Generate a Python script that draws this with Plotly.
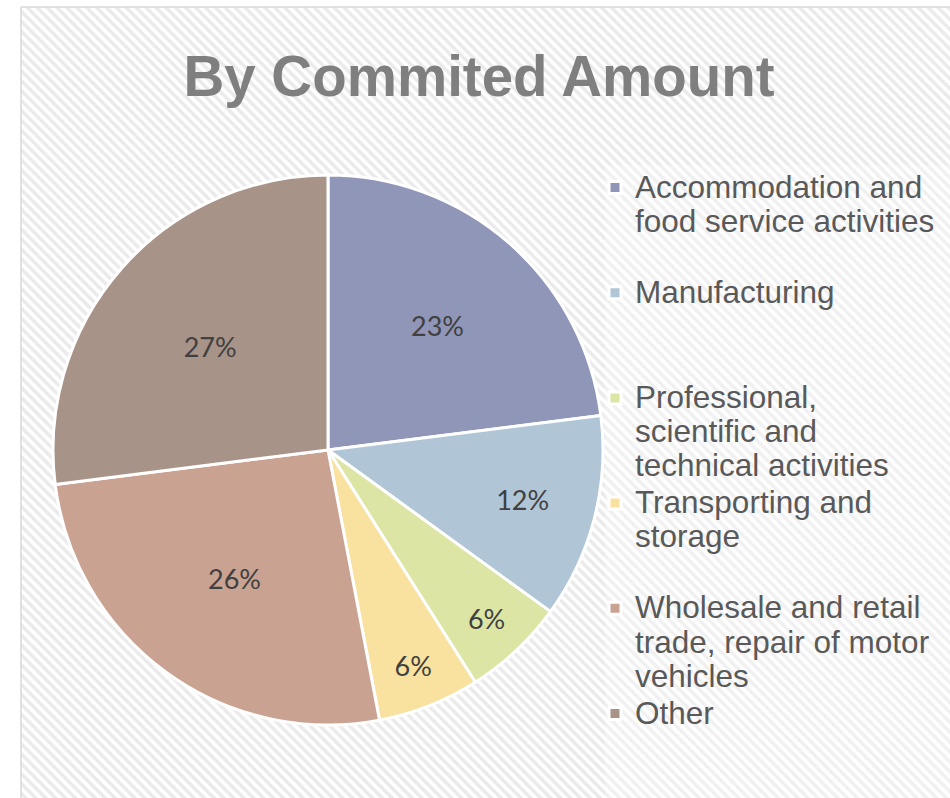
import plotly.graph_objects as go

# Sector names (line breaks as shown in the legend) and their share of committed amount
categories = [
    "Accommodation and<br>food service activities",
    "Manufacturing",
    "Professional,<br>scientific and<br>technical activities",
    "Transporting and<br>storage",
    "Wholesale and retail<br>trade, repair of motor<br>vehicles",
    "Other",
]
shares = [23, 12, 6, 6, 26, 27]
slice_colors = ["#8f96b7", "#b0c5d6", "#dde5a4", "#f9e19f", "#c9a292", "#a89389"]
title_text = "By Commited Amount"

W, H = 950, 798
LINES_PER_ENTRY = 3
LEGEND_GLYPH_PX = 31.5


def legend_label(name, pad=True):
    """Pad legend entries to the same number of lines so entries are evenly spaced."""
    lines = name.split("<br>")
    if pad:
        lines += ["\u00a0"] * (LINES_PER_ENTRY - len(lines))
    return "<br>".join(
        f'<span style="font-size:{LEGEND_GLYPH_PX}px">{ln}</span>' for ln in lines
    )


legend_labels = [legend_label(c, pad=(i < len(categories) - 1))
                 for i, c in enumerate(categories)]

fig = go.Figure()

# Hatched chart-area background with a thin grey frame
fig.add_trace(
    go.Scatter(
        x=[21, W + 5, W + 5, 21, 21],
        y=[7, 7, H + 5, H + 5, 7],
        mode="lines",
        fill="toself",
        fillpattern=dict(
            shape="\\", fgcolor="#d6d6d6", bgcolor="#ffffff", size=7, solidity=0.5
        ),
        line=dict(color="#d9d9d9", width=1.5),
        hoverinfo="skip",
        showlegend=False,
    )
)

fig.add_trace(
    go.Pie(
        labels=legend_labels,
        values=shares,
        sort=False,
        direction="clockwise",
        rotation=0,
        marker=dict(colors=slice_colors, line=dict(color="#ffffff", width=3)),
        texttemplate="%{percent:.0%}",
        textposition="inside",
        insidetextorientation="horizontal",
        textfont=dict(family="Lato, Open Sans, sans-serif", size=27, color="#404040"),
        hoverinfo="percent",
        domain=dict(x=[53 / W, 603 / W], y=[1 - 725 / H, 1 - 175 / H]),
    )
)

# Lighter panel behind the legend entries (kept clear of the pie)
fig.add_shape(
    type="rect", xref="paper", yref="paper",
    x0=605 / W, x1=1.0, y0=0.0, y1=1 - 165 / H,
    fillcolor="rgba(255,255,255,0.3)", line=dict(width=0), layer="above",
)

fig.update_layout(
    width=W,
    height=H,
    autosize=False,
    margin=dict(l=0, r=0, t=0, b=0, autoexpand=False),
    paper_bgcolor="#ffffff",
    plot_bgcolor="#ffffff",
    xaxis=dict(range=[0, W], visible=False, fixedrange=True),
    yaxis=dict(range=[H, 0], visible=False, fixedrange=True),
    title=dict(
        text=title_text,
        x=479 / W,
        xanchor="center",
        y=1 - 76 / H,
        yanchor="middle",
        font=dict(family="Liberation Sans, Arial, sans-serif", size=56.5,
                  color="#7f7f7f", weight="bold"),
    ),
    legend=dict(
        x=595 / W,
        xanchor="left",
        y=1 - 164 / H,
        yanchor="top",
        valign="top",
        font=dict(family="Liberation Sans, Arial, sans-serif", size=26.2, color="#595959"),
        bgcolor="rgba(0,0,0,0)",
        borderwidth=0,
    ),
)

fig.write_html("out.html")
